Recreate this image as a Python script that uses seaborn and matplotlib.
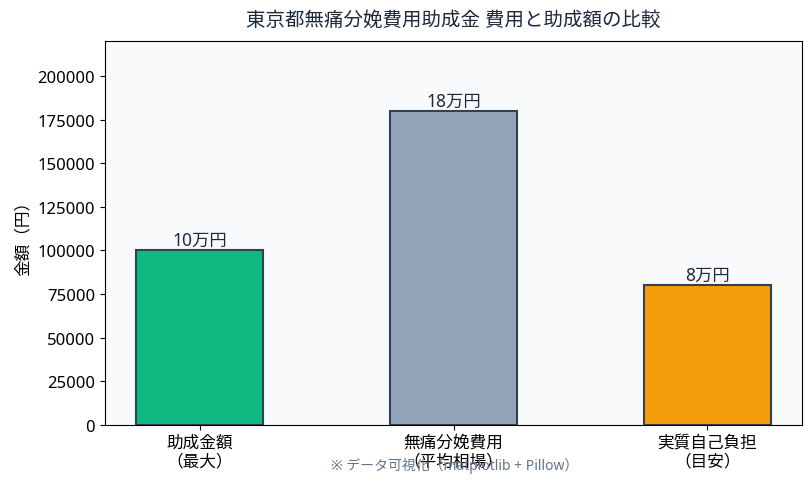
import matplotlib
matplotlib.use("Agg")
import matplotlib.pyplot as plt
import seaborn as sns
import pandas as pd

categories = ["助成金額\n（最大）", "無痛分娩費用\n（平均相場）", "実質自己負担\n（目安）"]
amounts = [100000, 180000, 80000]
bar_labels = ["10万円", "18万円", "8万円"]
colors = ["#10b981", "#94a3b8", "#f59e0b"]

plt.rcParams["font.family"] = ["Noto Sans", "Noto Sans CJK JP", "DejaVu Sans"]

df = pd.DataFrame({"category": categories, "amount": amounts})

fig = plt.figure(figsize=(8.12, 4.85), dpi=100)
ax = fig.add_axes([0.129, 0.122, 0.859, 0.791])
ax.set_facecolor("#f8fafc")

sns.barplot(data=df, x="category", y="amount", hue="category", palette=colors,
            saturation=1, width=0.5, edgecolor="#334155", linewidth=1.5,
            legend=False, ax=ax)

for i, (v, lab) in enumerate(zip(amounts, bar_labels)):
    ax.text(i, v + 800, lab, ha="center", va="bottom", fontsize=12.5, color="#1e293b")

ax.set_xlim(-0.375, 2.375)
ax.set_ylim(0, 220000)
ax.set_xlabel("")
ax.set_ylabel("金額（円）", fontsize=12)
ax.tick_params(labelsize=12)
ax.set_title("東京都無痛分娩費用助成金 費用と助成額の比較", fontsize=14, color="#1e293b", pad=12)

fig.text(0.56, 0.039, "※ データ可視化（matplotlib + Pillow）", ha="center", va="center",
         fontsize=10, color="#64748b")

fig.savefig("out.png", dpi=100)
